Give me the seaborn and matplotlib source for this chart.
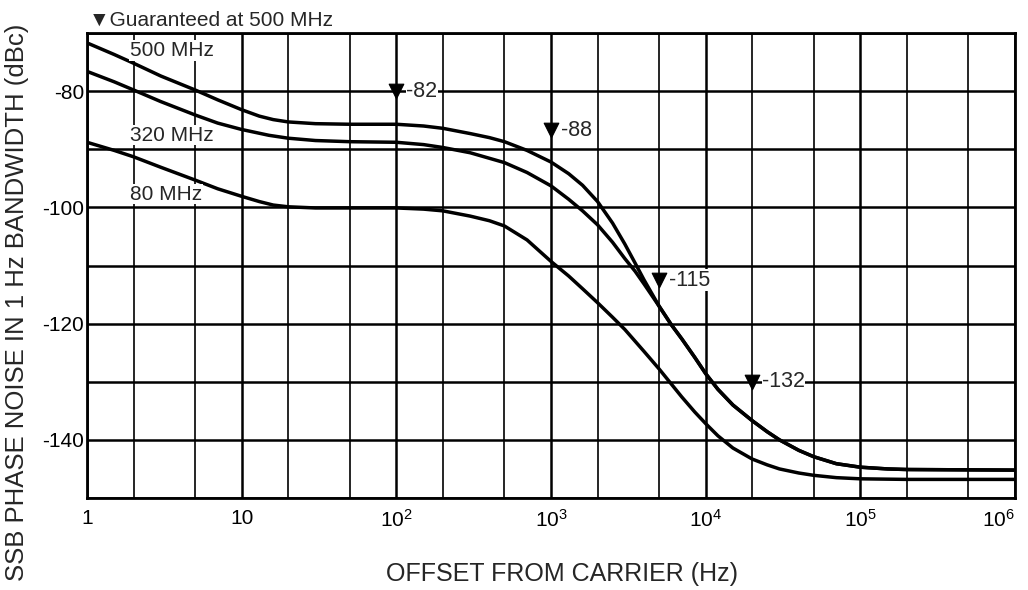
import pandas as pd
import matplotlib
matplotlib.use("Agg")
import matplotlib.pyplot as plt
import matplotlib.ticker as mticker
import seaborn as sns

# Kurve verileri
freq_500 = [1, 1.5, 2, 3, 5, 7, 10, 13, 16, 20, 30, 50, 100, 150, 200, 300, 400, 500, 700,
            1000, 1300, 1600, 2000, 2500, 3000, 3500, 4000, 5000, 6000, 7000, 8500, 1e4,
            1.2e4, 1.5e4, 2e4, 2.5e4, 3e4, 4e4, 5e4, 7e4, 1e5, 1.5e5, 2e5, 1e6]
noise_500 = [-71.7, -73.7, -75.2, -77.4, -79.8, -81.5, -83.2, -84.3, -84.9, -85.3, -85.6,
             -85.7, -85.7, -86.0, -86.4, -87.3, -88.0, -88.7, -90.2, -92.2, -94.2, -96.2,
             -99.0, -102.7, -106.3, -109.6, -112.5, -117.0, -120.2, -122.6, -125.8, -128.6,
             -131.3, -134.0, -136.7, -138.6, -140.0, -141.8, -142.9, -144.1, -144.7, -145.0,
             -145.1, -145.2]

freq_320 = [1, 1.5, 2, 3, 5, 7, 10, 15, 20, 30, 50, 100, 150, 200, 300, 500, 700, 1000,
            1300, 1600, 2000, 2500, 3000, 3500, 4000, 5000, 6000, 7000, 8500, 1e4, 1.2e4,
            1.5e4, 2e4, 2.5e4, 3e4, 4e4, 5e4, 7e4, 1e5, 1.5e5, 2e5, 1e6]
noise_320 = [-76.6, -78.4, -79.8, -81.8, -84.1, -85.5, -86.6, -87.6, -88.1, -88.5, -88.7,
             -88.8, -89.2, -89.7, -90.6, -92.3, -94.0, -96.3, -98.6, -100.6, -103.0, -106.0,
             -108.8, -111.0, -113.2, -117.0, -120.2, -122.6, -125.8, -128.6, -131.3, -134.0,
             -136.7, -138.6, -140.0, -141.8, -142.9, -144.1, -144.7, -145.0, -145.1, -145.2]

freq_80 = [1, 1.5, 2, 3, 5, 7, 10, 13, 16, 20, 30, 50, 100, 150, 200, 300, 400, 500, 700,
           1000, 1300, 1600, 2000, 2500, 3000, 4000, 5000, 6000, 7000, 8500, 1e4, 1.2e4,
           1.5e4, 2e4, 2.5e4, 3e4, 4e4, 5e4, 7e4, 1e5, 2e5, 1e6]
noise_80 = [-88.8, -90.2, -91.3, -93.1, -95.3, -96.8, -98.1, -99.0, -99.6, -99.9, -100.1,
            -100.1, -100.1, -100.3, -100.6, -101.5, -102.3, -103.2, -105.6, -109.3, -111.8,
            -114.0, -116.4, -118.9, -121.0, -124.8, -127.8, -130.4, -132.6, -135.2, -137.2,
            -139.3, -141.4, -143.3, -144.3, -145.0, -145.7, -146.1, -146.5, -146.7, -146.8,
            -146.8]

# Garanti noktaları
spec_freq = [100, 1000, 5000, 20000]
spec_y = [-80.0, -86.7, -112.5, -130.0]
spec_labels = ["-82", "-88", "-115", "-132"]

curve_names = ["500 MHz", "320 MHz", "80 MHz"]
curve_label_pos = [(1.9, -73.0), (1.9, -87.6), (1.9, -97.7)]

x_ticks = [1, 10, 1e2, 1e3, 1e4, 1e5, 1e6]
x_tick_labels = ["1", "10", "$10^2$", "$10^3$", "$10^4$", "$10^5$", "$10^6$"]
y_ticks = [-80, -100, -120, -140]

sns.set_style("white")
plt.rcParams["font.family"] = ["Liberation Sans", "DejaVu Sans"]
plt.rcParams["axes.unicode_minus"] = False
plt.rcParams["mathtext.fontset"] = "custom"
plt.rcParams["mathtext.rm"] = "Liberation Sans"
plt.rcParams["mathtext.it"] = "Liberation Sans"

fig = plt.figure(figsize=(10.28, 5.90), dpi=100)
ax = fig.add_axes([87 / 1028, 1 - 498 / 590, 928 / 1028, 465 / 590])

for f, n in [(freq_500, noise_500), (freq_320, noise_320), (freq_80, noise_80)]:
    df = pd.DataFrame({"f": f, "n": n})
    sns.lineplot(data=df, x="f", y="n", ax=ax, color="black", linewidth=2.5, sort=True)

sns.scatterplot(x=spec_freq, y=spec_y, ax=ax, marker="v", color="black", s=110,
                edgecolor="black", zorder=5)

ax.set_xscale("log")
ax.set_xlim(1, 1e6)
ax.set_ylim(-150, -70)

# Izgara
ax.xaxis.set_major_locator(mticker.FixedLocator(x_ticks))
ax.xaxis.set_minor_locator(mticker.LogLocator(base=10, subs=[2, 5], numticks=20))
ax.xaxis.set_major_formatter(mticker.FixedFormatter(x_tick_labels))
ax.xaxis.set_minor_formatter(mticker.NullFormatter())
ax.yaxis.set_major_locator(mticker.FixedLocator(y_ticks))
ax.yaxis.set_minor_locator(mticker.MultipleLocator(10))

ax.grid(True, which="major", axis="x", color="black", linewidth=1.8)
ax.grid(True, which="minor", axis="x", color="black", linewidth=1.2)
ax.grid(True, which="both", axis="y", color="black", linewidth=1.8)
ax.set_axisbelow(True)

ax.tick_params(axis="both", which="both", length=0, labelsize=15, colors="black")
ax.tick_params(axis="x", pad=8)
ax.tick_params(axis="y", pad=2)
ax.get_xticklabels()[-1].set_horizontalalignment("right")
ax.get_xticklabels()[-1].set_x(1e6)
for s in ax.spines.values():
    s.set_color("black")
    s.set_linewidth(2)

ax.set_xlabel("")
ax.set_ylabel("")

for name, (x, y) in zip(curve_names, curve_label_pos):
    ax.text(x, y, name, fontsize=15, va="center", ha="left",
            bbox=dict(facecolor="white", edgecolor="none", pad=0.5))

for x, y, lab in zip(spec_freq, spec_y, spec_labels):
    ax.annotate(lab, (x, y), xytext=(7, 0), textcoords="offset points", fontsize=15.5,
                va="center", ha="left",
                bbox=dict(facecolor="white", edgecolor="none", pad=0.3))

fig.text(89 / 1028, 1 - 20 / 590, "\u25bcGuaranteed at 500 MHz", fontsize=15, va="center", ha="left")
fig.text(562 / 1028, 1 - 574 / 590, "OFFSET FROM CARRIER (Hz)", fontsize=18, va="center", ha="center")
fig.text(17 / 1028, 1 - 302 / 590, "SSB PHASE NOISE IN 1 Hz BANDWIDTH (dBc)", fontsize=18.5,
         rotation=90, va="center", ha="center")

fig.savefig("out.png", dpi=100)
